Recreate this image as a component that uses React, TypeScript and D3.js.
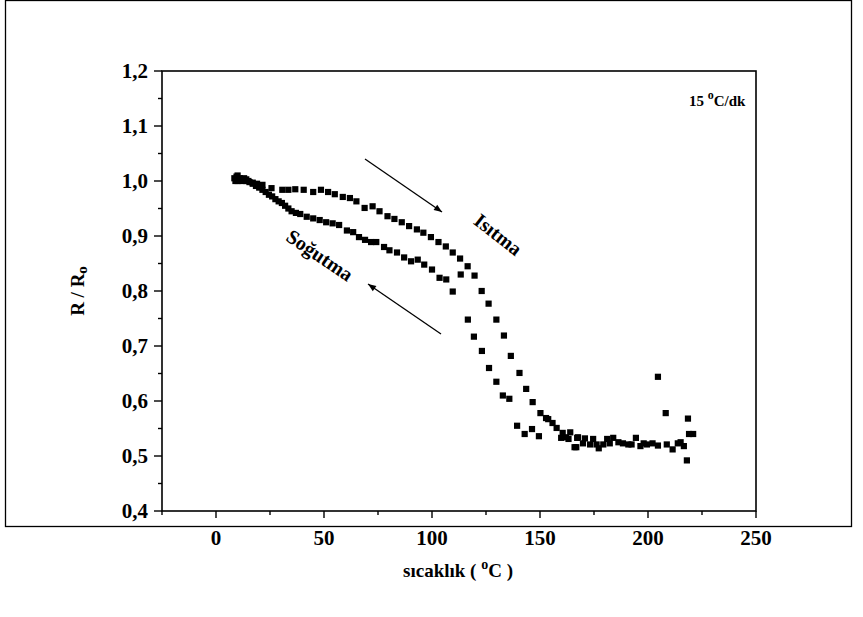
import React from "react";
import * as d3 from "d3";

const W = 863;
const H = 617;

// Heating branch (Isıtma): [temperature °C, R/Ro]
const heatingT = [8.5, 9, 10, 11, 12, 13, 14, 15, 17, 19, 21.5, 25.7, 30.7, 33.5, 36.7, 40.6, 45, 48.6, 51.9, 55, 58.7, 62, 65, 68.8, 72.5, 75.7, 79.4, 82.6, 86, 89.4, 93, 96, 99.5, 103, 106.4, 109.6, 113, 116.5, 119.7, 123, 126.2, 129.8, 133.3, 136.5, 140.5, 143.6, 146.6, 150.2, 152.8, 153.8, 155.8, 157.7, 160.5, 162, 164, 166, 167.6, 169.9, 170.8, 173.2, 174.6, 176.2, 177.2, 179.3, 181.1, 182.3, 183.9, 186.3, 188.4, 190.9, 192.4, 194.4, 196.5, 198, 199.5, 202.1, 204.6, 204.6, 208.2, 208.7, 211.4, 213.8, 215.1, 216.6, 218, 218.5, 219, 220.9];
const heatingR = [1.005, 1.0, 1.01, 1.005, 1.0, 1.005, 1.003, 1.0, 0.997, 0.995, 0.993, 0.987, 0.984, 0.984, 0.985, 0.984, 0.98, 0.984, 0.98, 0.976, 0.971, 0.969, 0.963, 0.951, 0.954, 0.945, 0.936, 0.931, 0.925, 0.918, 0.912, 0.906, 0.898, 0.889, 0.881, 0.87, 0.859, 0.845, 0.828, 0.8, 0.777, 0.748, 0.719, 0.682, 0.651, 0.622, 0.598, 0.578, 0.569, 0.567, 0.56, 0.551, 0.542, 0.534, 0.543, 0.516, 0.534, 0.523, 0.532, 0.521, 0.531, 0.521, 0.514, 0.521, 0.531, 0.523, 0.533, 0.525, 0.523, 0.521, 0.521, 0.533, 0.518, 0.523, 0.521, 0.523, 0.519, 0.644, 0.578, 0.521, 0.512, 0.523, 0.525, 0.518, 0.492, 0.568, 0.54, 0.54];

// Cooling branch (Soğutma)
const coolingT = [159.8, 163.2, 167.2, 166.8, 149.5, 146.3, 142.9, 139.4, 135.8, 132.8, 129.8, 126.4, 123.1, 119.4, 116.6, 113.3, 109.6, 106.6, 103.5, 100, 96.4, 93.4, 90.3, 87.1, 83.8, 80.3, 77.8, 74.2, 71.8, 69, 66.2, 63.5, 60.6, 57, 54, 51, 48, 45, 42, 39, 37, 35, 33.5, 32, 30.5, 29, 27.5, 26, 24.5, 23, 21.5, 20, 18.5, 17, 15.5, 14, 12.5, 11, 10, 9.5];
const coolingR = [0.533, 0.531, 0.533, 0.516, 0.536, 0.549, 0.54, 0.555, 0.604, 0.61, 0.635, 0.66, 0.691, 0.717, 0.748, 0.83, 0.799, 0.821, 0.824, 0.839, 0.848, 0.857, 0.854, 0.861, 0.87, 0.874, 0.88, 0.889, 0.889, 0.893, 0.898, 0.907, 0.91, 0.92, 0.923, 0.925, 0.929, 0.932, 0.935, 0.94, 0.942, 0.945, 0.95, 0.955, 0.96, 0.963, 0.967, 0.972, 0.975, 0.98, 0.984, 0.988, 0.991, 0.995, 0.998, 1.0, 1.002, 1.003, 1.0, 1.008];

const xMajor = [0, 50, 100, 150, 200, 250];
const xMinor = [-25, 25, 75, 125, 175, 225];
const yMajor = [0.4, 0.5, 0.6, 0.7, 0.8, 0.9, 1.0, 1.1, 1.2];
const yMinor = [0.45, 0.55, 0.65, 0.75, 0.85, 0.95, 1.05, 1.15];

const FONT = "'Liberation Serif', 'Times New Roman', serif";

export default function App() {
  const left = 162, right = 756, top = 71, bottom = 511;
  const x = d3.scaleLinear().domain([-25, 250]).range([left, right]);
  const y = d3.scaleLinear().domain([0.4, 1.2]).range([bottom, top]);
  const fmt = (v: number) => d3.format(".1f")(v).replace(".", ",");
  const s = 6.2;

  const heat = heatingT.map((t, i) => [t, heatingR[i]]);
  const cool = coolingT.map((t, i) => [t, coolingR[i]]);

  return (
    <svg width={W} height={H} style={{ position: "absolute", left: 0, top: 0, background: "#fff" }}>
      <defs>
        <marker id="ah" viewBox="0 0 10 10" refX="10" refY="5" markerWidth="10" markerHeight="8" orient="auto" markerUnits="userSpaceOnUse">
          <path d="M0,1 L10,5 L0,9 Z" fill="#000" />
        </marker>
      </defs>
      <rect x={0} y={0} width={W} height={H} fill="#fff" />
      <rect x={5.5} y={0.5} width={846} height={526} fill="none" stroke="#000" strokeWidth={1.3} />

      {/* plot frame */}
      <rect x={left} y={top} width={right - left} height={bottom - top} fill="none" stroke="#000" strokeWidth={1.6} />

      {/* y ticks */}
      {yMajor.map((v) => (
        <g key={"ym" + v}>
          <line x1={left - 8} x2={left} y1={y(v)} y2={y(v)} stroke="#000" strokeWidth={1.4} />
          <text x={left - 14} y={y(v)} dy="0.35em" textAnchor="end" fontFamily={FONT} fontWeight="bold" fontSize={21}>{fmt(v)}</text>
        </g>
      ))}
      {yMinor.map((v) => (
        <line key={"yn" + v} x1={left - 4} x2={left} y1={y(v)} y2={y(v)} stroke="#000" strokeWidth={1.4} />
      ))}

      {/* x ticks */}
      {xMajor.map((v) => (
        <g key={"xm" + v}>
          <line x1={x(v)} x2={x(v)} y1={bottom} y2={bottom + 7} stroke="#000" strokeWidth={1.4} />
          <text x={x(v)} y={bottom + 34} textAnchor="middle" fontFamily={FONT} fontWeight="bold" fontSize={21}>{v}</text>
        </g>
      ))}
      {xMinor.map((v) => (
        <line key={"xn" + v} x1={x(v)} x2={x(v)} y1={bottom} y2={bottom + 4} stroke="#000" strokeWidth={1.4} />
      ))}

      {/* axis titles */}
      <text x={458} y={577} textAnchor="middle" fontFamily={FONT} fontWeight="bold" fontSize={19}>
        sıcaklık  ( <tspan dy={-8} fontSize={14}>o</tspan><tspan dy={8}>C )</tspan>
      </text>
      <text transform="translate(84,291) rotate(-90)" textAnchor="middle" fontFamily={FONT} fontWeight="bold" fontSize={19}>
        R / R<tspan dy={3} fontSize={15}>o</tspan>
      </text>

      {/* data */}
      {heat.map((d, i) => (
        <rect key={"h" + i} x={x(d[0]) - s / 2} y={y(d[1]) - s / 2} width={s} height={s} fill="#000" />
      ))}
      {cool.map((d, i) => (
        <rect key={"c" + i} x={x(d[0]) - s / 2} y={y(d[1]) - s / 2} width={s} height={s} fill="#000" />
      ))}

      {/* annotations */}
      <text x={689} y={106} fontFamily={FONT} fontWeight="bold" fontSize={15}>
        15 <tspan dy={-7} fontSize={12}>o</tspan><tspan dy={7}>C/dk</tspan>
      </text>
      <line x1={365} y1={159} x2={442} y2={212} stroke="#000" strokeWidth={1.3} markerEnd="url(#ah)" />
      <line x1={441} y1={334} x2={368} y2={284} stroke="#000" strokeWidth={1.3} markerEnd="url(#ah)" />
      <text transform="translate(494,240) rotate(38)" textAnchor="middle" fontFamily={FONT} fontWeight="bold" fontSize={20}>Isıtma</text>
      <text transform="translate(316,261) rotate(34)" textAnchor="middle" fontFamily={FONT} fontWeight="bold" fontSize={20}>Soğutma</text>
    </svg>
  );
}
